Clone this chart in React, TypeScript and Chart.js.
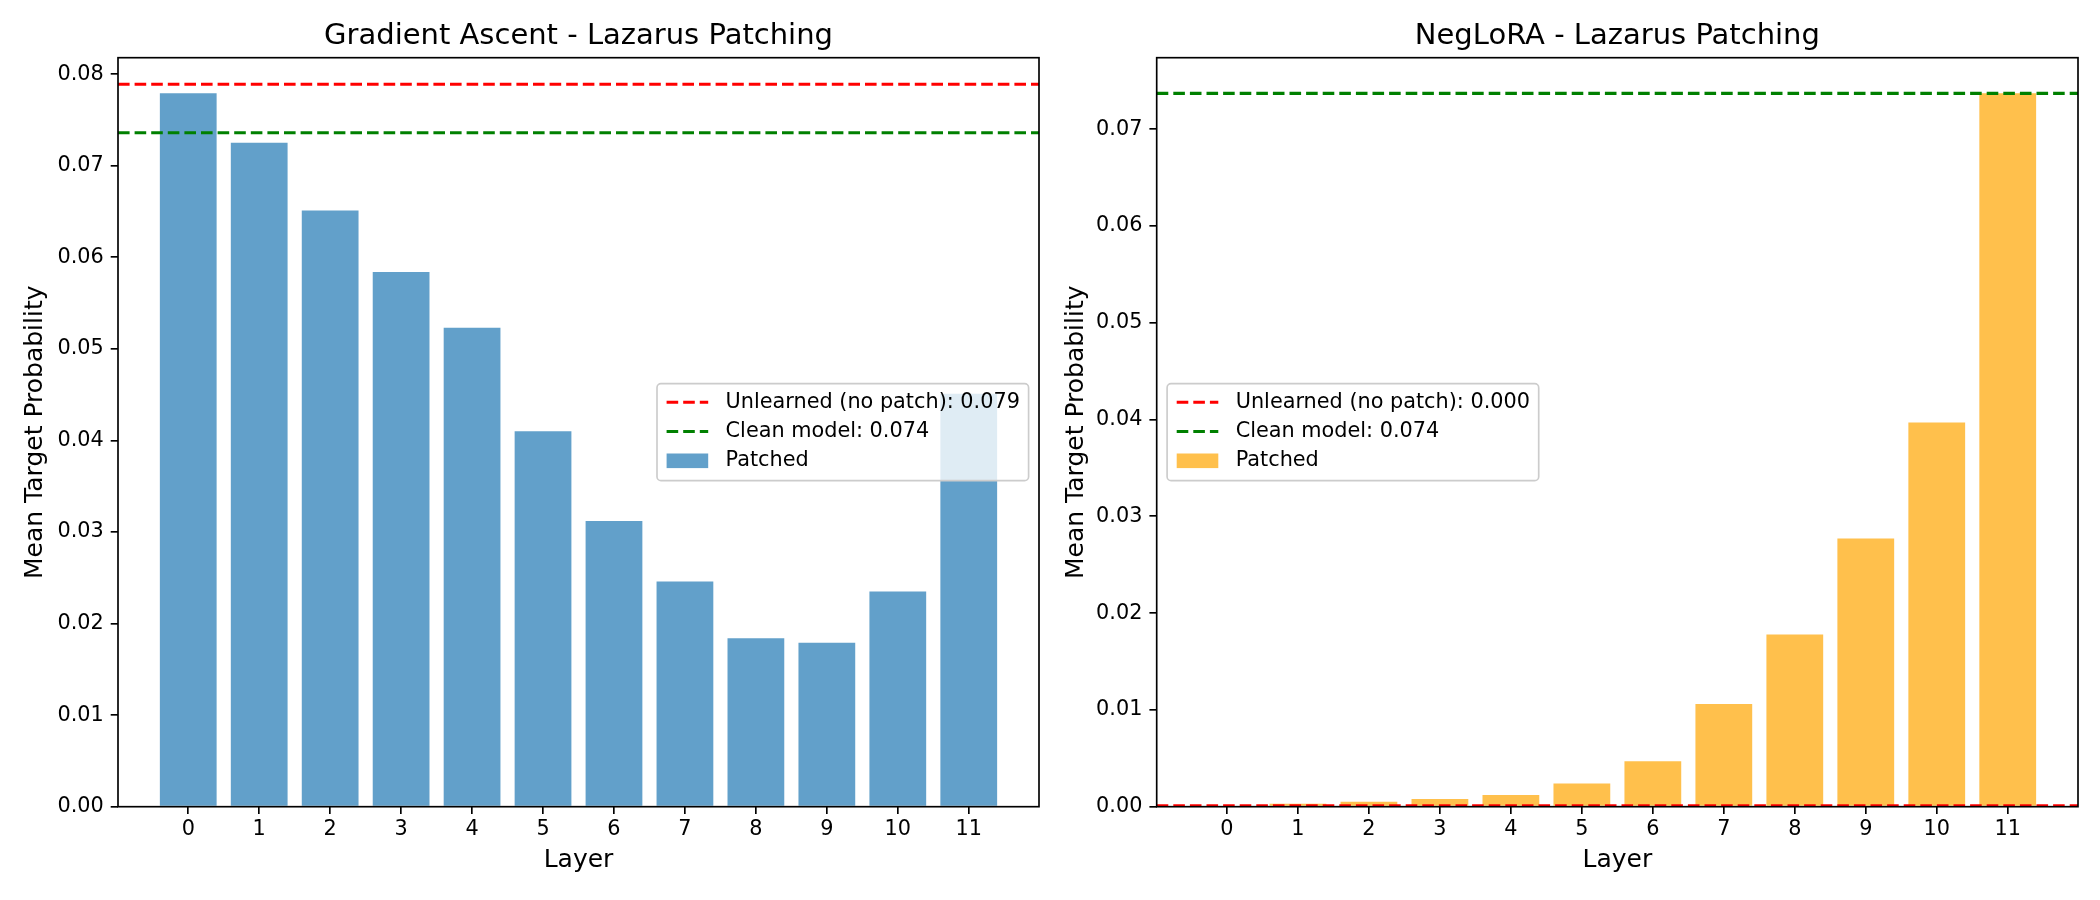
import { useEffect, useRef } from "react";
import { Chart, registerables, Plugin } from "chart.js";

Chart.register(...registerables);

const FONT = "'DejaVu Sans', sans-serif";
Chart.defaults.font.family = FONT;

// data
const layers = [0, 1, 2, 3, 4, 5, 6, 7, 8, 9, 10, 11];

const gaPatched = [0.0779, 0.0725, 0.0651, 0.0584, 0.0523, 0.041, 0.0312, 0.0246, 0.0184, 0.0179, 0.0235, 0.0451];
const gaUnlearned = 0.0789;
const gaClean = 0.0736;

const negPatched = [0.0001, 0.0003, 0.0005, 0.0008, 0.0012, 0.0024, 0.0047, 0.0106, 0.0178, 0.0277, 0.0397, 0.0737];
const negUnlearned = 0.0001;
const negClean = 0.0737;

const gaTicks = [0, 0.01, 0.02, 0.03, 0.04, 0.05, 0.06, 0.07, 0.08];
const negTicks = [0, 0.01, 0.02, 0.03, 0.04, 0.05, 0.06, 0.07];

const X_MIN = -0.99;
const X_MAX = 11.99;

// full box around the plot, like matplotlib spines
const framePlugin: Plugin = {
  id: "frame",
  afterDraw(chart) {
    const { ctx, chartArea: a } = chart;
    ctx.save();
    ctx.strokeStyle = "#000";
    ctx.lineWidth = 1.67;
    ctx.strokeRect(a.left, a.top, a.right - a.left, a.bottom - a.top);
    ctx.restore();
  },
};

// legend drawn inside the plot area
const insideLegend: Plugin = {
  id: "insideLegend",
  afterDatasetsDraw(chart, _args, opts: any) {
    const { ctx, chartArea: a } = chart;
    const fs = 20.8;
    const handle = 41.6;
    const padL = 9.6;
    const gap = 17.4;
    const padR = 8.7;
    const h = 97;
    const rows = [18.5, 47.8, 77.1];

    ctx.save();
    ctx.font = `${fs}px ${FONT}`;
    const items = chart.data.datasets as any[];
    const textW = Math.max(...items.map((d) => ctx.measureText(d.label).width));
    const w = padL + handle + gap + textW + padR;
    const x = opts.side === "right" ? a.right - 10.4 - w : a.left + 10.4;
    const y = (a.top + a.bottom) / 2 - h / 2;

    ctx.beginPath();
    ctx.roundRect(x, y, w, h, 4);
    ctx.fillStyle = "rgba(255,255,255,0.8)";
    ctx.fill();
    ctx.strokeStyle = "#cccccc";
    ctx.lineWidth = 1.67;
    ctx.stroke();

    items.forEach((d, i) => {
      const cy = y + rows[i];
      const hx = x + padL;
      if (d.type === "line") {
        ctx.beginPath();
        ctx.setLineDash(d.borderDash);
        ctx.strokeStyle = d.borderColor;
        ctx.lineWidth = d.borderWidth;
        ctx.moveTo(hx, cy);
        ctx.lineTo(hx + handle, cy);
        ctx.stroke();
        ctx.setLineDash([]);
      } else {
        ctx.fillStyle = d.backgroundColor;
        ctx.fillRect(hx, cy - 7.3, handle, 14.6);
      }
      ctx.fillStyle = "#000";
      ctx.textBaseline = "middle";
      ctx.textAlign = "left";
      ctx.fillText(d.label, hx + handle + gap, cy);
    });
    ctx.restore();
  },
};

type PanelProps = {
  title: string;
  values: number[];
  unlearned: number;
  clean: number;
  color: string;
  yTicks: number[];
  legendSide: "left" | "right";
  yAxisWidth: number;
  padRight: number;
  yTitlePad: number;
};

const Panel = (p: PanelProps) => {
  const ref = useRef<HTMLCanvasElement | null>(null);

  useEffect(() => {
    const yMax = Math.max(...p.values) * 1.05;
    const dash = [11.6, 5];
    const chart = new Chart(ref.current!, {
      type: "bar",
      data: {
        datasets: [
          {
            type: "line",
            label: `Unlearned (no patch): ${p.unlearned.toFixed(3)}`,
            data: [{ x: X_MIN, y: p.unlearned }, { x: X_MAX, y: p.unlearned }],
            borderColor: "#ff0000",
            borderWidth: 3.1,
            borderDash: dash,
            pointRadius: 0,
            fill: false,
          },
          {
            type: "line",
            label: `Clean model: ${p.clean.toFixed(3)}`,
            data: [{ x: X_MIN, y: p.clean }, { x: X_MAX, y: p.clean }],
            borderColor: "#008000",
            borderWidth: 3.1,
            borderDash: dash,
            pointRadius: 0,
            fill: false,
          },
          {
            type: "bar",
            label: "Patched",
            data: layers.map((l, i) => ({ x: l, y: p.values[i] })),
            backgroundColor: p.color,
            categoryPercentage: 1,
            barPercentage: 0.8,
          },
        ] as any,
      },
      options: {
        animation: false,
        responsive: false,
        events: [],
        layout: { padding: { left: 0, right: p.padRight, top: 0, bottom: 0 } },
        plugins: {
          legend: { display: false },
          tooltip: { enabled: false },
          title: {
            display: true,
            text: p.title,
            fullSize: false,
            color: "#000",
            font: { family: FONT, size: 29, weight: "normal", lineHeight: 1.2 },
            padding: { top: 18.6, bottom: 4.3 },
          },
          insideLegend: { side: p.legendSide },
        } as any,
        scales: {
          x: {
            type: "linear",
            min: X_MIN,
            max: X_MAX,
            offset: false,
            afterBuildTicks: (ax: any) => {
              ax.ticks = layers.map((v) => ({ value: v }));
            },
            afterFit: (s: any) => {
              s.height = 93.3;
            },
            grid: { offset: false, drawOnChartArea: false, drawTicks: true, tickLength: 7.3, color: "#000", lineWidth: 1.67 },
            border: { display: false },
            ticks: {
              color: "#000",
              font: { family: FONT, size: 20.8 },
              padding: 3,
              maxRotation: 0,
              autoSkip: false,
              callback: (v: any) => String(v),
            },
            title: {
              display: true,
              text: "Layer",
              color: "#000",
              font: { family: FONT, size: 25 },
              padding: { top: 0, bottom: 25 },
            },
          },
          y: {
            type: "linear",
            min: 0,
            max: yMax,
            afterBuildTicks: (ax: any) => {
              ax.ticks = p.yTicks.map((v) => ({ value: v }));
            },
            afterFit: (s: any) => {
              s.width = p.yAxisWidth;
            },
            grid: { drawOnChartArea: false, drawTicks: true, tickLength: 7.3, color: "#000", lineWidth: 1.67 },
            border: { display: false },
            ticks: {
              color: "#000",
              font: { family: FONT, size: 20.8 },
              padding: 7,
              callback: (v: any) => Number(v).toFixed(2),
            },
            title: {
              display: true,
              text: "Mean Target Probability",
              color: "#000",
              font: { family: FONT, size: 25 },
              padding: { top: p.yTitlePad, bottom: 0 },
            },
          },
        },
      } as any,
      plugins: [framePlugin, insideLegend],
    });

    return () => chart.destroy();
  }, []);

  return <canvas ref={ref} width={1050} height={900} style={{ display: "block", width: 1050, height: 900 }} />;
};

const App = () => (
  <div style={{ position: "absolute", left: 0, top: 0, width: 2100, height: 900, background: "#fff", display: "flex" }}>
    <Panel
      title="Gradient Ascent - Lazarus Patching"
      values={gaPatched}
      unlearned={gaUnlearned}
      clean={gaClean}
      color="rgba(31, 119, 180, 0.7)"
      yTicks={gaTicks}
      legendSide="right"
      yAxisWidth={118}
      padRight={11}
      yTitlePad={20}
    />
    <Panel
      title="NegLoRA - Lazarus Patching"
      values={negPatched}
      unlearned={negUnlearned}
      clean={negClean}
      color="rgba(255, 165, 0, 0.7)"
      yTicks={negTicks}
      legendSide="left"
      yAxisWidth={106.7}
      padRight={22}
      yTitlePad={11}
    />
  </div>
);

export default App;
